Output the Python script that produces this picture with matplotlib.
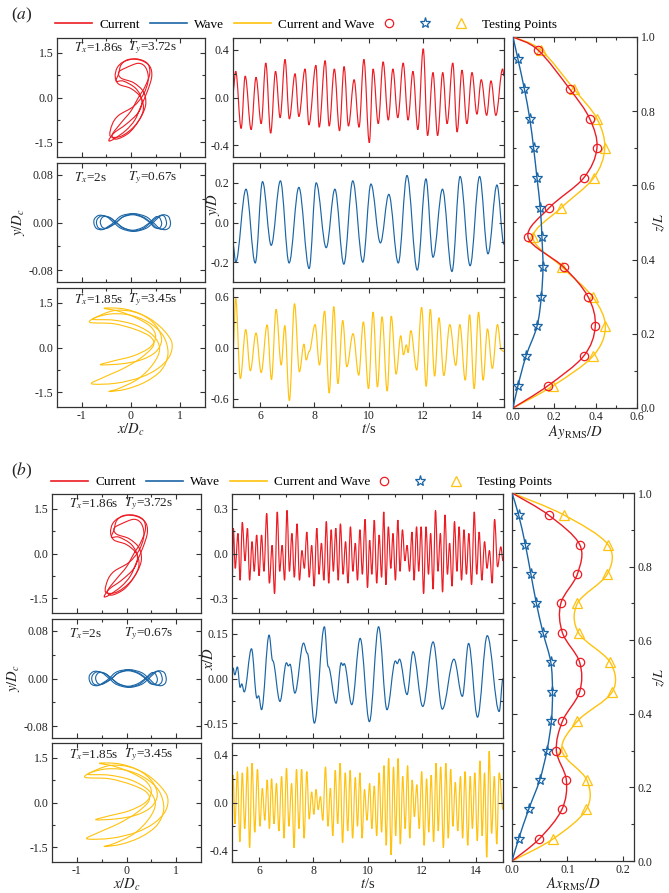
import numpy as np
import matplotlib
matplotlib.use('Agg')
import matplotlib.pyplot as plt
from matplotlib.path import Path
from matplotlib.patches import PathPatch
from matplotlib.lines import Line2D
from matplotlib.legend_handler import HandlerTuple
from matplotlib.ticker import FixedLocator, FormatStrFormatter

plt.rcParams['font.family'] = ['Liberation Serif', 'DejaVu Serif']
plt.rcParams['mathtext.fontset'] = 'stix'
plt.rcParams['axes.unicode_minus'] = False

RED = '#EC1C24'
BLUE = '#1A65A6'
YEL = '#FFC20E'
INK = '#222222'

# ---------------- data: time series extrema (t [s], value) ----------------
# (a) y/D, Current
t_ra = [5.00, 5.10, 5.30, 5.45, 5.67, 5.85, 6.04, 6.21, 6.39, 6.57, 6.74, 6.92, 7.08, 7.29, 7.43,
        7.66, 7.80, 8.06, 8.18, 8.40, 8.55, 8.74, 8.93, 9.10, 9.26, 9.47, 9.65, 9.83, 10.03, 10.17,
        10.36, 10.54, 10.73, 10.90, 11.08, 11.28, 11.46, 11.64, 11.82, 12.02, 12.18, 12.38, 12.55,
        12.74, 12.90, 13.11, 13.27, 13.45, 13.63, 13.82, 14.00, 14.16, 14.36, 14.52, 14.70, 14.95, 15.00]
v_ra = [0.05, 0.22, -0.26, 0.18, -0.27, 0.17, -0.22, 0.29, -0.30, 0.22, -0.17, 0.32, -0.18, 0.20, -0.16,
        0.24, -0.23, 0.27, -0.25, 0.31, -0.24, 0.24, -0.28, 0.26, -0.24, 0.15, -0.25, 0.32, -0.38, 0.24,
        -0.22, 0.30, -0.19, 0.24, -0.17, 0.29, -0.19, 0.22, -0.27, 0.41, -0.32, 0.21, -0.32, 0.21, -0.22,
        0.29, -0.29, 0.23, -0.22, 0.21, -0.14, 0.15, -0.15, 0.14, -0.15, 0.24, 0.18]
# (a) y/D, Wave
t_ba = [5.00, 5.10, 5.48, 5.82, 6.09, 6.41, 6.75, 7.07, 7.43, 7.81, 8.07, 8.44, 8.76, 9.09, 9.42, 9.79,
        10.09, 10.44, 10.75, 11.10, 11.42, 11.80, 12.12, 12.38, 12.73, 13.08, 13.38, 13.75, 14.10, 14.41,
        14.74, 15.00]
v_ba = [-0.11, -0.20, 0.168, -0.204, 0.206, -0.115, 0.21, -0.204, 0.177, -0.232, 0.20, -0.127, 0.168,
        -0.21, 0.21, -0.20, 0.194, -0.103, 0.142, -0.204, 0.237, -0.24, 0.22, -0.175, 0.168, -0.247,
        0.232, -0.218, 0.232, -0.158, 0.189, -0.11]
# (a) y/D, Current and Wave
t_ya = [5.00, 5.10, 5.27, 5.47, 5.64, 5.85, 6.04, 6.26, 6.42, 6.59, 6.78, 6.91, 7.08, 7.27, 7.45, 7.62,
        7.70, 7.81, 8.03, 8.19, 8.38, 8.55, 8.72, 8.87, 9.05, 9.20, 9.43, 9.64, 9.81, 10.00, 10.17, 10.33,
        10.50, 10.69, 10.84, 11.02, 11.19, 11.29, 11.40, 11.46, 11.56, 11.78, 11.96, 12.13, 12.28, 12.44,
        12.60, 12.78, 13.00, 13.22, 13.37, 13.57, 13.73, 13.90, 14.06, 14.23, 14.39, 14.57, 14.76, 14.90,
        15.00]
v_ya = [-0.05, 0.576, -0.366, 0.211, -0.274, 0.171, -0.294, 0.266, -0.377, 0.449, -0.207, 0.258, -0.624,
        0.516, -0.286, 0.04, -0.147, -0.048, 0.27, -0.207, 0.429, -0.536, 0.481, -0.425, 0.318, -0.226,
        0.163, -0.326, 0.302, -0.485, 0.417, -0.465, 0.362, -0.513, 0.369, -0.314, 0.139, -0.087, 0.032,
        -0.06, 0.199, -0.266, 0.473, -0.457, 0.449, -0.338, 0.35, -0.33, 0.27, -0.211, 0.27, -0.385,
        0.385, -0.485, 0.417, -0.385, 0.219, -0.246, 0.27, -0.028, -0.048]

# (b) x/D, Current : peaks and troughs
t_rb_pk = [5.05, 5.22, 5.38, 5.57, 5.74, 5.91, 6.09, 6.28, 6.48, 6.67, 6.85, 7.03, 7.21, 7.40, 7.58, 7.76,
           7.94, 8.13, 8.30, 8.48, 8.66, 8.83, 9.00, 9.19, 9.37, 9.55, 9.72, 9.91, 10.08, 10.25, 10.43,
           10.60, 10.77, 10.94, 11.12, 11.29, 11.46, 11.64, 11.81, 11.98, 12.16, 12.33, 12.51, 12.69,
           12.86, 13.03, 13.21, 13.38, 13.56, 13.74, 13.94, 14.12, 14.32, 14.50, 14.69, 14.92]
v_rb_pk = [0.17, 0.135, 0.21, 0.17, 0.08, 0.125, 0.125, 0.27, 0.055, 0.28, 0.055, 0.29, 0.135, 0.20, 0.02,
           0.145, 0.055, 0.17, 0.07, 0.215, 0.16, 0.17, 0.20, 0.08, 0.18, 0.07, 0.16, 0.23, 0.09, 0.225,
           0.125, 0.28, 0.18, 0.135, 0.225, 0.16, 0.055, 0.145, 0.18, 0.18, 0.18, 0.135, 0.29, 0.135,
           0.26, 0.07, 0.215, 0.18, 0.16, 0.135, 0.28, 0.145, 0.08, 0.02, 0.23, 0.045]
t_rb_tr = [5.00, 5.12, 5.30, 5.48, 5.65, 5.82, 6.00, 6.18, 6.38, 6.57, 6.76, 6.94, 7.12, 7.30, 7.49, 7.67,
           7.85, 8.03, 8.21, 8.39, 8.57, 8.74, 8.92, 9.10, 9.28, 9.46, 9.63, 9.81, 10.00, 10.16, 10.34,
           10.52, 10.68, 10.86, 11.03, 11.20, 11.38, 11.55, 11.72, 11.89, 12.07, 12.25, 12.42, 12.60,
           12.77, 12.95, 13.12, 13.30, 13.47, 13.65, 13.84, 14.03, 14.22, 14.41, 14.60, 14.80, 15.00]
v_rb_tr = [-0.25, -0.10, -0.18, -0.05, -0.18, -0.12, -0.15, -0.12, -0.20, -0.27, -0.12, -0.18, -0.12,
           -0.16, -0.18, -0.10, -0.16, -0.22, -0.14, -0.18, -0.20, -0.12, -0.18, -0.14, -0.20, -0.12,
           -0.18, -0.14, -0.23, -0.14, -0.20, -0.16, -0.21, -0.10, -0.18, -0.12, -0.05, -0.12, -0.18,
           -0.12, -0.27, -0.14, -0.24, -0.12, -0.26, -0.14, -0.22, -0.12, -0.18, -0.14, -0.21, -0.14,
           -0.18, -0.10, -0.20, -0.09, -0.05]
# (b) x/D, Wave
t_bb = [5.00, 5.04, 5.10, 5.20, 5.30, 5.36, 5.45, 5.72, 5.92, 5.98, 6.09, 6.37, 6.50, 6.77, 7.01, 7.08,
        7.14, 7.32, 7.64, 7.78, 8.04, 8.41, 8.55, 8.84, 9.03, 9.09, 9.14, 9.42, 9.73, 10.07, 10.41, 10.72,
        11.03, 11.10, 11.18, 11.46, 11.68, 12.04, 12.42, 12.76, 13.19, 13.50, 13.73, 14.06, 14.42, 14.86,
        15.00]
v_bb = [0.02, 0.036, 0.012, 0.039, -0.030, -0.018, -0.045, 0.100, -0.066, -0.058, -0.105, 0.146, 0.060,
        -0.077, 0.053, 0.042, 0.048, -0.049, 0.119, 0.085, -0.150, 0.174, 0.040, -0.083, 0.053, 0.044,
        0.050, -0.088, 0.135, -0.145, 0.174, -0.105, 0.059, 0.050, 0.065, -0.054, 0.090, -0.094, 0.123,
        -0.103, 0.065, -0.060, 0.118, -0.130, 0.144, -0.111, 0.000]
# (b) x/D, Current and Wave : peaks and troughs
t_yb_pk = [5.04, 5.20, 5.38, 5.57, 5.74, 5.94, 6.12, 6.30, 6.46, 6.64, 6.83, 7.01, 7.20, 7.38, 7.57, 7.76,
           7.94, 8.10, 8.26, 8.45, 8.63, 8.81, 8.99, 9.18, 9.36, 9.55, 9.72, 9.89, 10.08, 10.25, 10.43,
           10.61, 10.78, 10.96, 11.13, 11.30, 11.48, 11.65, 11.82, 12.00, 12.18, 12.35, 12.53, 12.70,
           12.89, 13.07, 13.24, 13.43, 13.60, 13.79, 13.96, 14.15, 14.32, 14.49, 14.68, 14.86]
v_yb_pk = [0.23, 0.26, 0.25, 0.30, 0.33, 0.28, 0.12, 0.19, 0.20, 0.16, 0.22, 0.29, 0.16, 0.28, 0.28, 0.26,
           0.09, 0.11, 0.05, 0.30, 0.12, 0.27, 0.33, 0.25, 0.27, 0.21, 0.25, 0.11, 0.16, 0.14, 0.25, 0.31,
           0.37, 0.30, 0.37, 0.22, 0.31, 0.19, 0.15, 0.26, 0.20, 0.23, 0.33, 0.30, 0.33, 0.28, 0.17, 0.22,
           0.26, 0.22, 0.25, 0.35, 0.25, 0.43, 0.22, 0.25]
t_yb_tr = [5.00, 5.11, 5.29, 5.47, 5.65, 5.84, 6.03, 6.21, 6.38, 6.55, 6.73, 6.92, 7.10, 7.29, 7.47, 7.66,
           7.85, 8.02, 8.18, 8.35, 8.54, 8.72, 8.90, 9.08, 9.27, 9.45, 9.63, 9.80, 9.98, 10.16, 10.34,
           10.52, 10.69, 10.87, 11.04, 11.21, 11.39, 11.56, 11.73, 11.91, 12.09, 12.26, 12.44, 12.61,
           12.80, 12.98, 13.15, 13.33, 13.51, 13.70, 13.87, 14.05, 14.23, 14.40, 14.58, 14.77, 15.00]
v_yb_tr = [0.05, -0.18, -0.33, -0.22, -0.38, -0.25, -0.20, -0.15, -0.22, -0.18, -0.24, -0.30, -0.20, -0.38,
           -0.22, -0.30, -0.14, -0.10, -0.06, -0.15, -0.20, -0.28, -0.18, -0.34, -0.24, -0.30, -0.20,
           -0.30, -0.15, -0.22, -0.28, -0.25, -0.36, -0.44, -0.28, -0.35, -0.22, -0.30, -0.12, -0.22,
           -0.36, -0.25, -0.33, -0.24, -0.38, -0.30, -0.20, -0.24, -0.30, -0.36, -0.22, -0.32, -0.28,
           -0.46, -0.26, -0.35, -0.06]

# ---------------- data: orbits (x/Dc, y/Dc), traced loops ----------------
orb_r_x = [[-0.05, 0.20, 0.38, 0.42, 0.33, 0.20, 0.08, -0.10, -0.35, -0.45, -0.35, -0.10, 0.15, 0.22, 0.10, -0.15, -0.30, -0.25, -0.20],
           [-0.15, 0.10, 0.33, 0.38, 0.28, 0.15, 0.00, -0.20, -0.38, -0.30, -0.05, 0.15, 0.25, 0.20, 0.00, -0.25, -0.32, -0.28],
           [-0.10, 0.15, 0.30, 0.35, 0.25, 0.05, -0.25, -0.38, -0.42, -0.20, 0.05, 0.22, 0.30, 0.25, 0.05, -0.20, -0.25]]
orb_r_y = [[1.28, 1.25, 1.05, 0.70, 0.20, -0.30, -0.75, -1.10, -1.40, -1.45, -1.20, -0.90, -0.50, -0.10, 0.30, 0.55, 0.55, 0.80, 1.10],
           [1.20, 1.30, 1.15, 0.80, 0.35, 0.00, -0.45, -0.85, -1.25, -1.40, -1.20, -0.80, -0.40, 0.00, 0.30, 0.45, 0.70, 1.00],
           [1.00, 1.15, 1.00, 0.60, 0.10, -0.30, -0.60, -0.90, -1.30, -1.30, -1.00, -0.60, -0.20, 0.20, 0.50, 0.65, 0.85]]
orb_b_x = [[0.80, 0.76, 0.65, 0.55, 0.45, 0.30, 0.05, -0.20, -0.35, -0.50, -0.65, -0.74, -0.75, -0.70, -0.58, -0.45, -0.35, -0.20, 0.05, 0.30, 0.45, 0.58, 0.70, 0.78],
           [0.72, 0.68, 0.60, 0.50, 0.40, 0.25, 0.05, -0.15, -0.30, -0.45, -0.60, -0.68, -0.70, -0.66, -0.55, -0.40, -0.30, -0.15, 0.05, 0.25, 0.40, 0.52, 0.63, 0.70],
           [0.62, 0.58, 0.52, 0.45, 0.38, 0.22, 0.03, -0.17, -0.30, -0.42, -0.55, -0.61, -0.62, -0.58, -0.50, -0.38, -0.30, -0.17, 0.03, 0.22, 0.38, 0.47, 0.56, 0.61]]
orb_b_y = [[0.000, 0.010, 0.013, 0.008, 0.000, -0.010, -0.015, -0.010, 0.000, 0.010, 0.012, 0.006, -0.002, -0.010, -0.012, -0.006, 0.000, 0.011, 0.015, 0.010, 0.000, -0.010, -0.012, -0.008],
           [0.000, 0.010, 0.012, 0.007, 0.000, -0.010, -0.014, -0.009, 0.000, 0.009, 0.011, 0.006, -0.001, -0.009, -0.011, -0.005, 0.000, 0.010, 0.014, 0.009, 0.000, -0.009, -0.011, -0.007],
           [0.000, 0.008, 0.010, 0.006, 0.000, -0.009, -0.013, -0.009, 0.000, 0.008, 0.010, 0.005, -0.001, -0.008, -0.010, -0.005, 0.000, 0.009, 0.013, 0.009, 0.000, -0.008, -0.010, -0.006]]
orb_y_x = [[-0.84, -0.60, -0.30, 0.05, 0.40, 0.68, 0.83, 0.78, 0.55, 0.20, -0.30, -0.80, -0.55, -0.15, 0.20, 0.45, 0.40, 0.10, -0.35],
           [-0.55, -0.15, 0.25, 0.52, 0.62, 0.50, 0.20, -0.20, -0.62, -0.35, 0.05, 0.38, 0.50, 0.40, 0.10, -0.25],
           [-0.78, -0.45, -0.05, 0.35, 0.65, 0.75, 0.62, 0.30, -0.10, -0.45, -0.25, 0.15, 0.45, 0.58, 0.45, 0.10, -0.35]]
orb_y_y = [[0.85, 1.10, 1.25, 1.20, 0.95, 0.55, 0.15, -0.30, -0.70, -1.00, -1.20, -1.22, -1.00, -0.70, -0.35, 0.05, 0.35, 0.60, 0.80],
           [1.32, 1.30, 1.08, 0.70, 0.25, -0.15, -0.42, -0.55, -0.58, -0.45, -0.28, 0.00, 0.35, 0.70, 1.00, 1.22],
           [0.95, 1.12, 1.10, 0.85, 0.40, -0.20, -0.75, -1.15, -1.40, -1.48, -1.38, -1.05, -0.55, -0.05, 0.40, 0.75, 0.92]]

# ---------------- data: RMS profiles ----------------
z_pts = [0.06, 0.14, 0.22, 0.30, 0.38, 0.46, 0.54, 0.62, 0.70, 0.78, 0.86, 0.94]
z_pts_a_top = [0.06, 0.14, 0.22, 0.30, 0.38, 0.46, 0.54, 0.62, 0.70, 0.78, 0.86, 0.965]
ay_current = [0.169, 0.342, 0.398, 0.363, 0.245, 0.073, 0.176, 0.342, 0.406, 0.371, 0.274, 0.121]
ay_wave = [0.024, 0.063, 0.116, 0.137, 0.145, 0.140, 0.132, 0.116, 0.100, 0.081, 0.055, 0.024]
ay_cw = [0.194, 0.387, 0.447, 0.385, 0.237, 0.097, 0.234, 0.390, 0.444, 0.406, 0.294, 0.135]
ax_current = [0.049, 0.090, 0.098, 0.080, 0.091, 0.122, 0.122, 0.091, 0.088, 0.118, 0.122, 0.066]
ax_wave = [0.012, 0.030, 0.050, 0.063, 0.071, 0.073, 0.070, 0.056, 0.044, 0.034, 0.024, 0.012]
ax_cw = [0.074, 0.134, 0.135, 0.090, 0.118, 0.181, 0.177, 0.120, 0.118, 0.172, 0.173, 0.094]

# ---------------- helpers ----------------
def extrema_path(t, v):
    assert len(t) == len(v)
    verts = [(t[0], v[0])]
    codes = [Path.MOVETO]
    for i in range(len(t) - 1):
        dt = t[i + 1] - t[i]
        verts += [(t[i] + 0.36 * dt, v[i]), (t[i + 1] - 0.36 * dt, v[i + 1]), (t[i + 1], v[i + 1])]
        codes += [Path.CURVE4] * 3
    return Path(verts, codes)


def merged(tp, vp, tt, vt):
    assert len(tp) == len(vp) and len(tt) == len(vt)
    t = np.array(list(tp) + list(tt))
    v = np.array(list(vp) + list(vt))
    o = np.argsort(t)
    return t[o], v[o]


def cr_path(x, y, closed=False):
    P = np.column_stack([x, y]).astype(float)
    n = len(P)
    if closed:
        get = lambda i: P[i % n]
        segs = n
    else:
        get = lambda i: P[min(max(i, 0), n - 1)]
        segs = n - 1
    verts = [tuple(P[0])]
    codes = [Path.MOVETO]
    for i in range(segs):
        p0, p1, p2, p3 = get(i - 1), get(i), get(i + 1), get(i + 2)
        c1 = p1 + (p2 - p0) / 6.0
        c2 = p2 - (p3 - p1) / 6.0
        verts += [tuple(c1), tuple(c2), tuple(p2)]
        codes += [Path.CURVE4] * 3
    return Path(verts, codes)


W, H = 669, 893
fig = plt.figure(figsize=(W / 100, H / 100), dpi=100)


def rect(x0, x1, yt, yb):
    return [x0 / W, 1 - yb / H, (x1 - x0) / W, (yb - yt) / H]


def style(ax, xlim, ylim, xmaj, xmin, ymaj, ymin, xfmt, yfmt, xlabels=True, yright=False):
    ax.set_xlim(xlim)
    ax.set_ylim(ylim)
    ax.xaxis.set_major_locator(FixedLocator(xmaj))
    ax.xaxis.set_minor_locator(FixedLocator(xmin))
    ax.yaxis.set_major_locator(FixedLocator(ymaj))
    ax.yaxis.set_minor_locator(FixedLocator(ymin))
    ax.xaxis.set_major_formatter(FormatStrFormatter(xfmt))
    ax.yaxis.set_major_formatter(FormatStrFormatter(yfmt))
    ax.tick_params(which='both', direction='in', top=True, right=True, labelsize=8.5,
                   width=0.8, color='#333333', labelcolor=INK, pad=2.5)
    ax.tick_params(which='major', length=3.5)
    ax.tick_params(which='minor', length=2.0)
    if not xlabels:
        ax.tick_params(labelbottom=False)
    if yright:
        ax.tick_params(labelleft=False, labelright=True)
    for s in ax.spines.values():
        s.set_linewidth(0.9)
        s.set_color('#333333')


def orbit(ax, xs, ys, color):
    for x, y in zip(xs, ys):
        ax.add_patch(PathPatch(cr_path(x, y, closed=True), fill=False, edgecolor=color, lw=0.8))


def ts(ax, t, v, color):
    ax.add_patch(PathPatch(extrema_path(t, v), fill=False, edgecolor=color, lw=0.85))


def profile(ax, z, vals, color, marker, ms, zo):
    zz = [0.0] + list(z) + [1.0]
    xx = [0.0] + list(vals) + [0.0]
    ax.add_patch(PathPatch(cr_path(xx, zz), fill=False, edgecolor=color, lw=1.0, zorder=zo))
    ax.plot(vals, z, ls='none', marker=marker, mfc='none', mec=color, ms=ms, mew=0.9, zorder=zo + 0.5)


def legend_row(y, x0, x1):
    hl = [Line2D([], [], color=c, lw=1.2) for c in (RED, BLUE, YEL)]
    fig.legend(hl, ['Current', 'Wave', 'Current and Wave'], loc='center left',
               bbox_to_anchor=(x0 / W, 1 - y / H), ncol=3, frameon=False, fontsize=9.5,
               handlelength=2.8, handletextpad=0.55, columnspacing=0.75, borderpad=0,
               borderaxespad=0)
    mk = (Line2D([], [], ls='none', marker='o', mfc='none', mec=RED, ms=6, mew=0.9),
          Line2D([], [], ls='none', marker='*', mfc='none', mec=BLUE, ms=8, mew=0.9),
          Line2D([], [], ls='none', marker='^', mfc='none', mec=YEL, ms=6.5, mew=0.9))
    fig.legend([mk], ['Testing Points'], handler_map={tuple: HandlerTuple(ndivide=None, pad=0)},
               loc='center left', bbox_to_anchor=(x1 / W, 1 - y / H), frameon=False, fontsize=9.5,
               handlelength=8.2, handletextpad=0.25, borderpad=0, borderaxespad=0)


def panel(label, ly, leg_y, leg_x0, leg_x1, ox, tx, px, rows, pyr, tsdata, tslims, tsmaj, tsmin,
          tsfmt, tslab, ylab_x, ylab_y, prof, plim, pmaj, pmin, plab, ztop):
    fig.text(11 / W, 1 - ly / H, label, fontsize=12.5, color=INK, va='center', ha='left')
    legend_row(leg_y, leg_x0, leg_x1)
    # orbits
    orb_data = [(orb_r_x, orb_r_y, RED), (orb_b_x, orb_b_y, BLUE), (orb_y_x, orb_y_y, YEL)]
    orb_ylim = [(-2, 2), (-0.1, 0.1), (-2, 2)]
    orb_ymaj = [[-1.5, 0, 1.5], [-0.08, 0, 0.08], [-1.5, 0, 1.5]]
    orb_ymin = [[-0.75, 0.75], [-0.04, 0.04], [-0.75, 0.75]]
    orb_fmt = ['%.1f', '%.2f', '%.1f']
    orb_txt = [(r'$T_x$=1.86s', r'$T_y$=3.72s', 0.92), (r'$T_x$=2s', r'$T_y$=0.67s', 0.88),
               (r'$T_x$=1.85s', r'$T_y$=3.45s', 0.905)]
    for i in range(3):
        ax = fig.add_axes(rect(ox[0], ox[1], rows[i][0], rows[i][1]))
        style(ax, (-1.5, 1.5), orb_ylim[i], [-1, 0, 1], [-0.5, 0.5], orb_ymaj[i], orb_ymin[i],
              '%d', orb_fmt[i], xlabels=(i == 2))
        orbit(ax, orb_data[i][0], orb_data[i][1], orb_data[i][2])
        a, b, yy = orb_txt[i]
        ax.text(0.115, yy, a, transform=ax.transAxes, fontsize=9.5, color=INK, va='center')
        ax.text(0.48, yy, b, transform=ax.transAxes, fontsize=9.5, color=INK, va='center')
        if i == 1:
            ax.set_ylabel(r'$y/D_c$', fontsize=10.5, labelpad=1, color=INK)
        if i == 2:
            ax.set_xlabel(r'$x/D_c$', fontsize=10.5, labelpad=-0.5, color=INK)
    # time series
    cols = [RED, BLUE, YEL]
    for i in range(3):
        ax = fig.add_axes(rect(tx[0], tx[1], rows[i][0], rows[i][1]))
        style(ax, (5, 15), tslims[i], [6, 8, 10, 12, 14], [5, 7, 9, 11, 13, 15], tsmaj[i], tsmin[i],
              '%d', tsfmt[i], xlabels=(i == 2))
        ts(ax, tsdata[i][0], tsdata[i][1], cols[i])
        if i == 2:
            ax.set_xlabel(r'$t$/s', fontsize=10.5, labelpad=-0.5, color=INK)
    fig.text(ylab_x / W, 1 - ylab_y / H, tslab, rotation=90, fontsize=10.5, color=INK,
             ha='center', va='center')
    # profile
    ax = fig.add_axes(rect(px[0], px[1], pyr[0], pyr[1]))
    style(ax, plim, (0, 1), pmaj, pmin, [0, 0.2, 0.4, 0.6, 0.8, 1.0], [0.1, 0.3, 0.5, 0.7, 0.9],
          '%.1f', '%.1f', yright=True)
    cur, wav, cw = prof
    profile(ax, ztop, cw, YEL, '^', 6.5, 3)
    profile(ax, ztop, cur, RED, 'o', 6, 4)
    profile(ax, z_pts, wav, BLUE, '*', 8, 5)
    ax.set_xlabel(plab, fontsize=10.5, labelpad=-0.5, color=INK)
    fig.text(659 / W, 1 - (pyr[0] + pyr[1]) / 2 / H, r'$z/L$', rotation=90, fontsize=10,
             color=INK, ha='center', va='center')


panel(r'($a$)', 15, 25, 55, 371, (57, 205), (233, 504), (513, 637),
      [(38, 157), (163, 282), (288, 407)], (37, 408),
      [(t_ra, v_ra), (t_ba, v_ba), (t_ya, v_ya)],
      [(-0.5, 0.5), (-0.3, 0.3), (-0.7, 0.7)],
      [[-0.4, 0, 0.4], [-0.2, 0, 0.2], [-0.6, 0, 0.6]],
      [[-0.2, 0.2], [-0.1, 0.1], [-0.3, 0.3]],
      ['%.1f', '%.1f', '%.1f'], r'$y/D$', 214, 204,
      (ay_current, ay_wave, ay_cw), (0, 0.6), [0, 0.2, 0.4, 0.6], [0.1, 0.3, 0.5],
      r'$Ay_{\rm RMS}/D$', z_pts_a_top)

rb = merged(t_rb_pk, v_rb_pk, t_rb_tr, v_rb_tr)
yb = merged(t_yb_pk, v_yb_pk, t_yb_tr, v_yb_tr)
panel(r'($b$)', 471, 482, 51, 366, (52, 201), (232, 503), (512, 634),
      [(494, 613), (619, 738), (743, 862)], (493, 861),
      [rb, (t_bb, v_bb), yb],
      [(-0.4, 0.4), (-0.2, 0.2), (-0.5, 0.5)],
      [[-0.3, 0, 0.3], [-0.15, 0, 0.15], [-0.4, 0, 0.4]],
      [[-0.15, 0.15], [-0.075, 0.075], [-0.2, 0.2]],
      ['%.1f', '%.2f', '%.1f'], r'$x/D$', 209, 658,
      (ax_current, ax_wave, ax_cw), (0, 0.22), [0, 0.1, 0.2], [0.05, 0.15],
      r'$Ax_{\rm RMS}/D$', z_pts)

fig.savefig('out.png', dpi=100)
